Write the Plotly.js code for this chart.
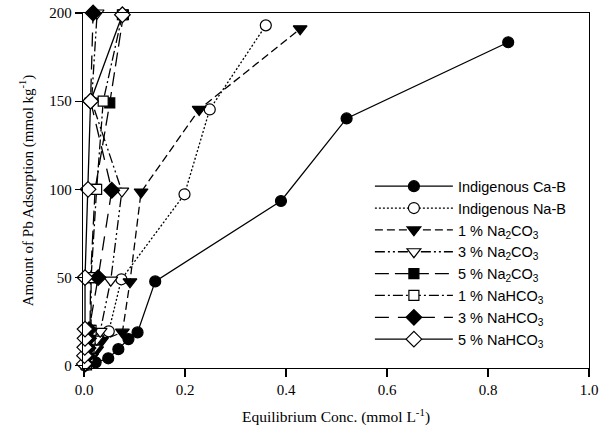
<!DOCTYPE html>
<html>
<head>
<meta charset="utf-8">
<script src="https://cdn.plot.ly/plotly-3.0.1.min.js"></script>
<style>html,body{margin:0;padding:0;background:#fff;}#chart{width:611px;height:435px;}</style>
</head>
<body>
<div id="chart"></div>
<script>
// Series names
const seriesNames = [
  "Indigenous Ca-B",
  "Indigenous Na-B",
  "1 % Na<sub>2</sub>CO<sub>3</sub>",
  "3 % Na<sub>2</sub>CO<sub>3</sub>",
  "5 % Na<sub>2</sub>CO<sub>3</sub>",
  "1 % NaHCO<sub>3</sub>",
  "3 % NaHCO<sub>3</sub>",
  "5 % NaHCO<sub>3</sub>"
];

// Equilibrium concentration (mmol/L) and adsorbed amount (mmol/kg)
const caB_x = [0.023, 0.048, 0.068, 0.088, 0.106, 0.141, 0.390, 0.520, 0.840];
const caB_y = [1.9, 4.2, 9.4, 15.1, 18.9, 47.8, 93.4, 140.2, 183.4];

const naB_x = [0.004, 0.010, 0.018, 0.030, 0.049, 0.074, 0.199, 0.249, 0.360];
const naB_y = [1.0, 5.0, 10.0, 15.0, 19.5, 49.0, 97.2, 145.3, 193.0];

const na2co3_1_x = [0.008, 0.015, 0.025, 0.035, 0.076, 0.091, 0.113, 0.228, 0.428];
const na2co3_1_y = [1.0, 5.0, 9.0, 14.2, 19.0, 47.6, 98.5, 145.3, 191.0];

const na2co3_3_x = [0.006, 0.012, 0.020, 0.025, 0.032, 0.053, 0.075, 0.015, 0.026];
const na2co3_3_y = [1.0, 5.0, 10.0, 15.0, 19.5, 48.5, 99.0, 150.0, 200.0];

const na2co3_5_x = [0.004, 0.006, 0.008, 0.010, 0.012, 0.013, 0.022, 0.051, 0.078];
const na2co3_5_y = [0.8, 5.0, 10.0, 15.0, 20.0, 50.0, 100.0, 149.0, 199.0];

const nahco3_1_x = [0.005, 0.008, 0.010, 0.012, 0.014, 0.014, 0.025, 0.038, 0.076];
const nahco3_1_y = [0.5, 5.0, 10.0, 15.0, 20.0, 50.0, 100.0, 150.0, 199.0];

const nahco3_3_x = [0.003, 0.006, 0.008, 0.009, 0.010, 0.028, 0.055, 0.013, 0.018];
const nahco3_3_y = [1.0, 5.5, 10.0, 15.5, 20.5, 50.0, 99.5, 150.0, 200.0];

const nahco3_5_x = [0.0005, 0.001, 0.0015, 0.002, 0.002, 0.002, 0.008, 0.013, 0.076];
const nahco3_5_y = [1.0, 5.7, 10.4, 15.5, 20.8, 50.0, 100.0, 150.0, 199.0];

const xs = [caB_x, naB_x, na2co3_1_x, na2co3_3_x, na2co3_5_x, nahco3_1_x, nahco3_3_x, nahco3_5_x];
const ys = [caB_y, naB_y, na2co3_1_y, na2co3_3_y, na2co3_5_y, nahco3_1_y, nahco3_3_y, nahco3_5_y];

const styles = [
  {dash: "solid", symbol: "circle", fill: "black", size: 11},
  {dash: "2px,2px", symbol: "circle", fill: "white", size: 11},
  {dash: "8px,4px", symbol: "triangle-down", fill: "black", size: 12},
  {dash: "10px,3px,2px,3px,2px,3px", symbol: "triangle-down", fill: "white", size: 12},
  {dash: "14px,6px", symbol: "square", fill: "black", size: 10},
  {dash: "10px,3px,2px,3px", symbol: "square", fill: "white", size: 10},
  {dash: "14px,9px", symbol: "diamond", fill: "black", size: 12},
  {dash: "solid", symbol: "diamond", fill: "white", size: 12}
];

const traces = seriesNames.map((n, i) => ({
  type: "scatter",
  mode: "lines+markers",
  name: n,
  x: xs[i],
  y: ys[i],
  line: {color: "black", width: 1.3, dash: styles[i].dash},
  marker: {symbol: styles[i].symbol, color: styles[i].fill, size: styles[i].size,
           line: {color: "black", width: 1.2}},
  cliponaxis: false
}));

const layout = {
  width: 611, height: 435,
  margin: {l: 83, r: 22, t: 13, b: 67},
  paper_bgcolor: "white", plot_bgcolor: "white",
  showlegend: true,
  legend: {
    x: 0.567, y: 0.557, xanchor: "left", yanchor: "top",
    bgcolor: "rgba(0,0,0,0)", borderwidth: 0,
    font: {family: "Liberation Sans, Arial, sans-serif", size: 14.5, color: "black"},
    itemwidth: 78, tracegroupgap: 0
  },
  xaxis: {
    range: [-0.002, 1.0],
    tickvals: [0, 0.2, 0.4, 0.6, 0.8, 1.0],
    ticktext: ["0.0", "0.2", "0.4", "0.6", "0.8", "1.0"],
    ticks: "outside", ticklen: 8, tickwidth: 1.2, tickcolor: "black",
    showline: true, linecolor: "black", linewidth: 1.3, mirror: true,
    showgrid: false, zeroline: false,
    tickfont: {family: "Liberation Serif, Times New Roman, serif", size: 15, color: "black"},
    title: {text: "Equilibrium Conc. (mmol L<sup>-1</sup>)", standoff: 14,
            font: {family: "Liberation Serif, Times New Roman, serif", size: 15.5, color: "black"}}
  },
  yaxis: {
    range: [-1.3, 200],
    tickvals: [0, 50, 100, 150, 200],
    ticks: "outside", ticklen: 7, tickwidth: 1.2, tickcolor: "black",
    showline: true, linecolor: "black", linewidth: 1.3, mirror: true,
    showgrid: false, zeroline: false,
    tickfont: {family: "Liberation Serif, Times New Roman, serif", size: 15, color: "black"},
    title: {text: "Amount of Pb Adsorption (mmol kg<sup>-1</sup>)", standoff: 12,
            font: {family: "Liberation Serif, Times New Roman, serif", size: 15, color: "black"}}
  }
};

Plotly.newPlot("chart", traces, layout, {displayModeBar: false, staticPlot: true});
</script>
</body>
</html>
